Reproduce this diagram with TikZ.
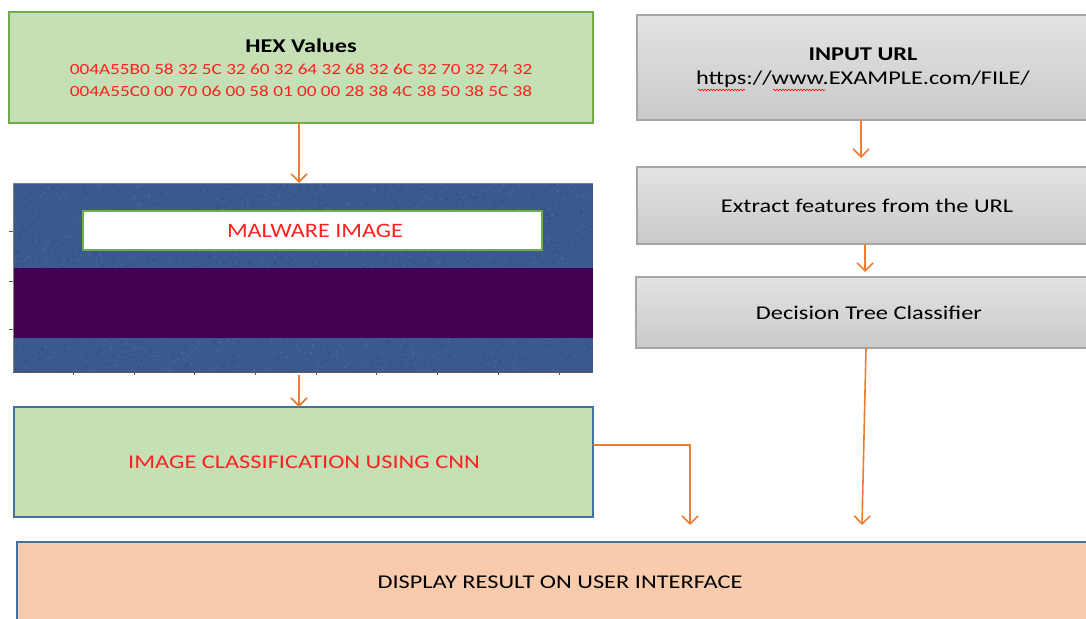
\documentclass[tikz,border=0pt]{standalone}
\usepackage{fontspec}
\usepackage{graphicx}
\setmainfont{Carlito}
\usetikzlibrary{arrows.meta,decorations.pathmorphing}
\definecolor{panelgreen}{HTML}{C5E0B4}
\definecolor{edgegreen}{HTML}{70AD47}
\definecolor{edgeblue}{HTML}{41719C}
\definecolor{flow}{HTML}{ED7D31}
\definecolor{salmon}{HTML}{F8CBAD}
\definecolor{greyedge}{HTML}{A6A6A6}
\definecolor{noiseblue}{HTML}{3A5A8E}
\definecolor{noiselight}{HTML}{436394}
\definecolor{noisedark}{HTML}{335389}
\definecolor{viridis}{HTML}{440154}
\definecolor{hexred}{HTML}{FF2020}
\newcommand{\wide}[2][1.25]{\scalebox{#1}[1]{#2}}
\tikzset{
  box/.style={draw, line width=1.6pt, inner sep=0pt},
  greenbox/.style={box, fill=panelgreen},
  greybox/.style={box, draw=greyedge, top color=gray!22, bottom color=gray!42},
  flowline/.style={draw=flow, line width=1.6pt},
  flowarrow/.style={flowline, -{Straight Barb[length=8pt,width=16pt,line width=1.6pt]}},
  txt/.style={font=\fontsize{19.5}{23}\selectfont, align=center, inner sep=0pt}
}
\begin{document}
\begin{tikzpicture}[x=1pt,y=-1pt]
\useasboundingbox (0,0) rectangle (1086,618);
\fill[white] (0,0) rectangle (1086,618);

% left column: hex dump
\path[greenbox, draw=edgegreen] (9,12) rectangle (593,123);
\node[txt] (hex) at (301,68) {\wide[1.24]{\textbf{HEX Values}}\\[-1pt]
  \wide[1.24]{\color{hexred}\fontsize{15.5}{19}\selectfont 004A55B0 58 32 5C 32 60 32 64 32 68 32 6C 32 70 32 74 32}\\[-1pt]
  \wide[1.24]{\color{hexred}\fontsize{15.5}{19}\selectfont 004A55C0 00 70 06 00 58 01 00 00 28 38 4C 38 50 38 5C 38}};
\coordinate (hexS) at (299,123);

% malware image plot with grainy texture
\fill[noiseblue] (13,183) rectangle (593,372);
\pgfmathsetseed{7}
\foreach \i in {1,...,2200} {
  \pgfmathsetmacro{\px}{13+578*rnd}
  \pgfmathsetmacro{\py}{183+187*rnd}
  \pgfmathsetmacro{\pc}{rnd}
  \ifdim\pc pt<0.5pt
    \fill[noiselight] (\px,\py) rectangle ++(2,2);
  \else
    \fill[noisedark] (\px,\py) rectangle ++(2,2);
  \fi
}
\fill[viridis] (13,268) rectangle (593,338);
\draw[gray, line width=1pt] (13,372) -- (13,183) -- (593,183);
\draw[gray!70!black, line width=0.8pt] (13,372) -- (593,372);
\foreach \yy in {231,281,329} \draw[gray!70!black, line width=0.8pt] (9,\yy) -- (13,\yy);
\foreach \xx in {73,134,194,255,316,376,437,498,559} \draw[gray!70!black, line width=0.8pt] (\xx,372) -- (\xx,375);
\coordinate (imgN) at (299,183);
\coordinate (imgS) at (299,375);
\path[box, draw=edgegreen, fill=white] (83,211) rectangle (542,250);
\node[txt, text=hexred, font=\fontsize{20.5}{24}\selectfont] (mal) at (315,231) {\wide[1.18]{MALWARE IMAGE}};

% CNN classification
\path[greenbox, draw=edgeblue] (14,407) rectangle (593,517);
\node[txt, text=hexred] (cnn) at (304,462) {\wide{IMAGE CLASSIFICATION USING CNN}};
\coordinate (cnnE) at (593,445);
\coordinate (cnnN) at (299,407);
\coordinate (cnnT) at (690,525);

% right column: URL pipeline
\path[greybox] (637,15) rectangle (1090,120);
\node[txt] (url) at (863,68) {\wide{\textbf{INPUT URL}}\\[1pt] \wide{https://www.EXAMPLE.com/FILE/}};
\draw[red, line width=0.6pt, decorate, decoration={snake, amplitude=0.8pt, segment length=3pt}] (698,90) -- (745,90);
\draw[red, line width=0.6pt, decorate, decoration={snake, amplitude=0.8pt, segment length=3pt}] (773,90) -- (825,90);
\coordinate (urlS) at (861,120);

\path[greybox] (637,167) rectangle (1090,244);
\node[txt] (feat) at (867,206) {\wide{Extract features from the URL}};
\coordinate (featN) at (861,158);
\coordinate (featS) at (865,244);

\path[greybox] (636,277) rectangle (1090,348);
\node[txt] (dt) at (869,313) {\wide{Decision Tree Classifier}};
\coordinate (dtN) at (865,272);
\coordinate (dtS) at (866,348);
\coordinate (dtT) at (862,525);

% result
\path[box, draw=edgeblue, fill=salmon] (17,542) rectangle (1092,625);
\node[txt] (res) at (560,582) {\wide{DISPLAY RESULT ON USER INTERFACE}};

% connectors
\draw[flowarrow] (hexS) -- (imgN);
\draw[flowarrow] (imgS) -- (cnnN);
\draw[flowarrow] (urlS) -- (featN);
\draw[flowarrow] (featS) -- (dtN);
\draw[flowarrow] (cnnE) -- (690,445) -- (cnnT);
\draw[flowarrow] (dtS) -- (dtT);
\end{tikzpicture}
\end{document}
